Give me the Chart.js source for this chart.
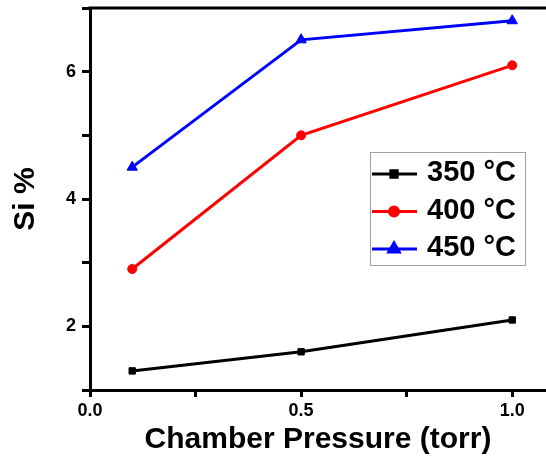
<!DOCTYPE html>
<html>
<head>
<meta charset="utf-8">
<script src="https://cdn.jsdelivr.net/npm/chart.js@4.4.0/dist/chart.umd.min.js"></script>
<style>
  html, body { margin: 0; padding: 0; background: #fff; }
  #wrap { width: 546px; height: 458px; }
</style>
</head>
<body>
<div id="wrap"><canvas id="myChart" width="546" height="458"></canvas></div>
<script>
// chart data
const pressure = [0.1, 0.5, 1.0]
const si350 = [1.3, 1.6, 2.1]
const si400 = [2.9, 5.0, 6.1]
const si450 = [4.5, 6.5, 6.8]
const seriesLabels = ['350 °C', '400 °C', '450 °C']
const seriesColors = ['#000000', '#ff0000', '#0000ff']
const seriesPoints = ['rect', 'circle', 'triangle']
const xTicks = [0, 0.25, 0.5, 0.75, 1.0]
const yTicks = [1, 2, 3, 4, 5, 6, 7]

const FONT = '"Liberation Sans", Arial, sans-serif'
Chart.defaults.font.family = FONT
Chart.defaults.color = '#000'

const toPoints = (ys) => pressure.map((x, i) => ({ x: x, y: ys[i] }))

// top frame line
const frame = {
    id: 'frame',
    afterDraw(chart) {
        const { ctx, chartArea } = chart
        ctx.save()
        ctx.strokeStyle = '#000'
        ctx.lineWidth = 3
        ctx.beginPath()
        ctx.moveTo(chartArea.left - 1.5, chartArea.top)
        ctx.lineTo(chart.width, chartArea.top)
        ctx.stroke()
        ctx.restore()
    }
}

// boxed legend inside the plot
const boxLegend = {
    id: 'boxLegend',
    afterDraw(chart) {
        const ctx = chart.ctx
        const x0 = 370, y0 = 152, w = 155, h = 113
        ctx.save()
        ctx.strokeStyle = '#a0a0a0'
        ctx.lineWidth = 1
        ctx.strokeRect(x0 + 0.5, y0 + 0.5, w, h)
        chart.data.datasets.forEach((ds, i) => {
            const y = 172 + i * 37.5
            ctx.strokeStyle = ds.borderColor
            ctx.fillStyle = ds.borderColor
            ctx.lineWidth = 3
            ctx.beginPath()
            ctx.moveTo(372, y + 2)
            ctx.lineTo(417, y + 2)
            ctx.stroke()
            Chart.helpers.drawPoint(ctx, {
                pointStyle: ds.pointStyle,
                radius: ds.pointRadius,
                borderWidth: 1
            }, 394, y + 2)
            ctx.fillStyle = '#000'
            ctx.font = 'bold 29px ' + FONT
            ctx.textBaseline = 'middle'
            ctx.textAlign = 'left'
            ctx.fillText(ds.label, 427, y + 1)
        })
        ctx.restore()
    }
}

new Chart(document.getElementById('myChart'), {
    type: 'line',
    data: {
        datasets: [
            { label: seriesLabels[0], data: toPoints(si350), pointStyle: seriesPoints[0], pointRadius: 4.5 },
            { label: seriesLabels[1], data: toPoints(si400), pointStyle: seriesPoints[1], pointRadius: 4.5 },
            { label: seriesLabels[2], data: toPoints(si450), pointStyle: seriesPoints[2], pointRadius: 6 }
        ].map((ds, i) => ({
            ...ds,
            borderColor: seriesColors[i],
            backgroundColor: seriesColors[i],
            pointBackgroundColor: seriesColors[i],
            pointBorderColor: seriesColors[i],
            pointBorderWidth: 1,
            borderWidth: 3,
            tension: 0,
            clip: false
        }))
    },
    plugins: [frame, boxLegend],
    options: {
        responsive: false,
        animation: false,
        layout: { autoPadding: false, padding: { top: 8, right: 0, left: 0, bottom: 0 } },
        plugins: {
            legend: { display: false },
            tooltip: { enabled: false }
        },
        scales: {
            x: {
                type: 'linear',
                min: 0,
                max: 1.08,
                afterBuildTicks: (s) => { s.ticks = xTicks.map(v => ({ value: v })) },
                afterFit: (s) => { s.height = 68; s.paddingLeft = 0; s.paddingRight = 0 },
                border: { display: true, color: '#000', width: 3 },
                grid: { drawOnChartArea: false, color: '#000', lineWidth: 3, tickLength: 7 },
                ticks: {
                    padding: 3,
                    maxRotation: 0,
                    font: { size: 18, weight: 'bold' },
                    callback: (v) => (Math.abs(v * 2 - Math.round(v * 2)) < 1e-6 ? v.toFixed(1) : '')
                },
                title: {
                    display: true,
                    text: 'Chamber Pressure (torr)',
                    font: { size: 30, weight: 'bold', lineHeight: 1.2 },
                    padding: { top: 0, bottom: 0 }
                }
            },
            y: {
                min: 1,
                max: 7,
                afterBuildTicks: (s) => { s.ticks = yTicks.map(v => ({ value: v })) },
                afterFit: (s) => { s.width = 90; s.paddingTop = 0; s.paddingBottom = 0 },
                border: { display: true, color: '#000', width: 3 },
                grid: { drawOnChartArea: false, color: '#000', lineWidth: 3, tickLength: 8 },
                ticks: {
                    padding: 6,
                    font: { size: 18, weight: 'bold' },
                    callback: (v) => (v % 2 === 0 ? String(v) : '')
                },
                title: {
                    display: true,
                    text: 'Si %',
                    font: { size: 30, weight: 'bold', lineHeight: 1.2 },
                    padding: { top: 8, bottom: 0 }
                }
            }
        }
    }
});
</script>
</body>
</html>
